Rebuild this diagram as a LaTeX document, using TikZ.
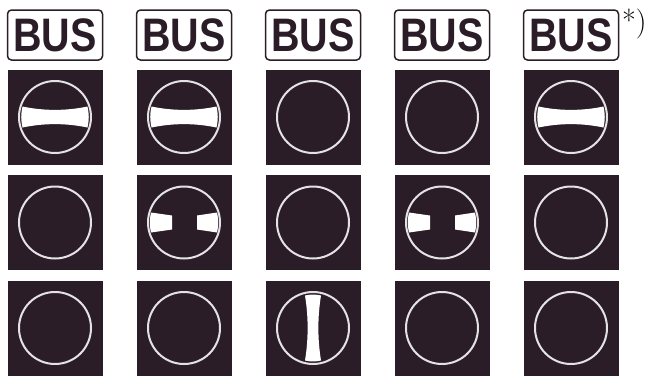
\documentclass[tikz,border=0pt]{standalone}
\usepackage{fontspec}
\newfontfamily\signfont{Liberation Sans}
\usepackage{tikz}
\definecolor{panel}{RGB}{42,29,39}
\definecolor{ringgray}{RGB}{228,226,228}

\begin{document}
\begin{tikzpicture}[x=1pt,y=1pt,
  sign/.style={draw=panel,line width=1.5pt,rounded corners=4pt,minimum width=95pt,minimum height=50pt,inner sep=0pt,text=panel,font=\signfont\bfseries\fontsize{47}{47}\selectfont},
  lamp/.style={fill=panel,minimum size=95pt,inner sep=0pt,path picture={\draw[ringgray,line width=2pt] (path picture bounding box.center) circle (36);}},
  hbar/.pic={\fill[white] (-32.5,10.5) .. controls (-11,6) and (11,6) .. (32.5,10.5) to[bend left=12] (32.5,-10.5) .. controls (11,-6) and (-11,-6) .. (-32.5,-10.5) to[bend left=12] cycle;},
  stubs/.pic={\fill[white] (-33,10) -- (-12,7) -- (-12,-7) -- (-33,-10) to[bend left=12] cycle;
              \fill[white] (33,10) -- (13,7) -- (13,-7) -- (33,-10) to[bend right=12] cycle;},
  vbar/.pic={\fill[white] (-8,32.5) .. controls (-4.5,11) and (-4.5,-11) .. (-8,-32.5) to[bend right=12] (8,-32.5) .. controls (4.5,-11) and (4.5,11) .. (8,32.5) to[bend right=12] cycle;}]
\path[use as bounding box] (0,0) rectangle (654,-376);
\node[sign] (s1) at (55,-35) {\scalebox{0.84}[1]{BUS}};
\node[sign] (s2) at (184,-35) {\scalebox{0.84}[1]{BUS}};
\node[sign] (s3) at (313,-35) {\scalebox{0.84}[1]{BUS}};
\node[sign] (s4) at (442,-35) {\scalebox{0.84}[1]{BUS}};
\node[sign] (s5) at (571,-35) {\scalebox{0.84}[1]{BUS}};
\node[anchor=base west,inner sep=0pt,font=\fontsize{30}{30}\selectfont] (note) at (622,-31) {*)};
\node[lamp] (p11) at (55,-117) {};
\node[lamp] (p12) at (184,-117) {};
\node[lamp] (p13) at (313,-117) {};
\node[lamp] (p14) at (442,-117) {};
\node[lamp] (p15) at (571,-117) {};
\node[lamp] (p21) at (55,-222.5) {};
\node[lamp] (p22) at (184,-222.5) {};
\node[lamp] (p23) at (313,-222.5) {};
\node[lamp] (p24) at (442,-222.5) {};
\node[lamp] (p25) at (571,-222.5) {};
\node[lamp] (p31) at (55,-328) {};
\node[lamp] (p32) at (184,-328) {};
\node[lamp] (p33) at (313,-328) {};
\node[lamp] (p34) at (442,-328) {};
\node[lamp] (p35) at (571,-328) {};
\pic at (p11) {hbar};
\pic at (p12) {hbar};
\pic at (p15) {hbar};
\pic at (p22) {stubs};
\pic at (p24) {stubs};
\pic at (p33) {vbar};
\end{tikzpicture}
\end{document}
